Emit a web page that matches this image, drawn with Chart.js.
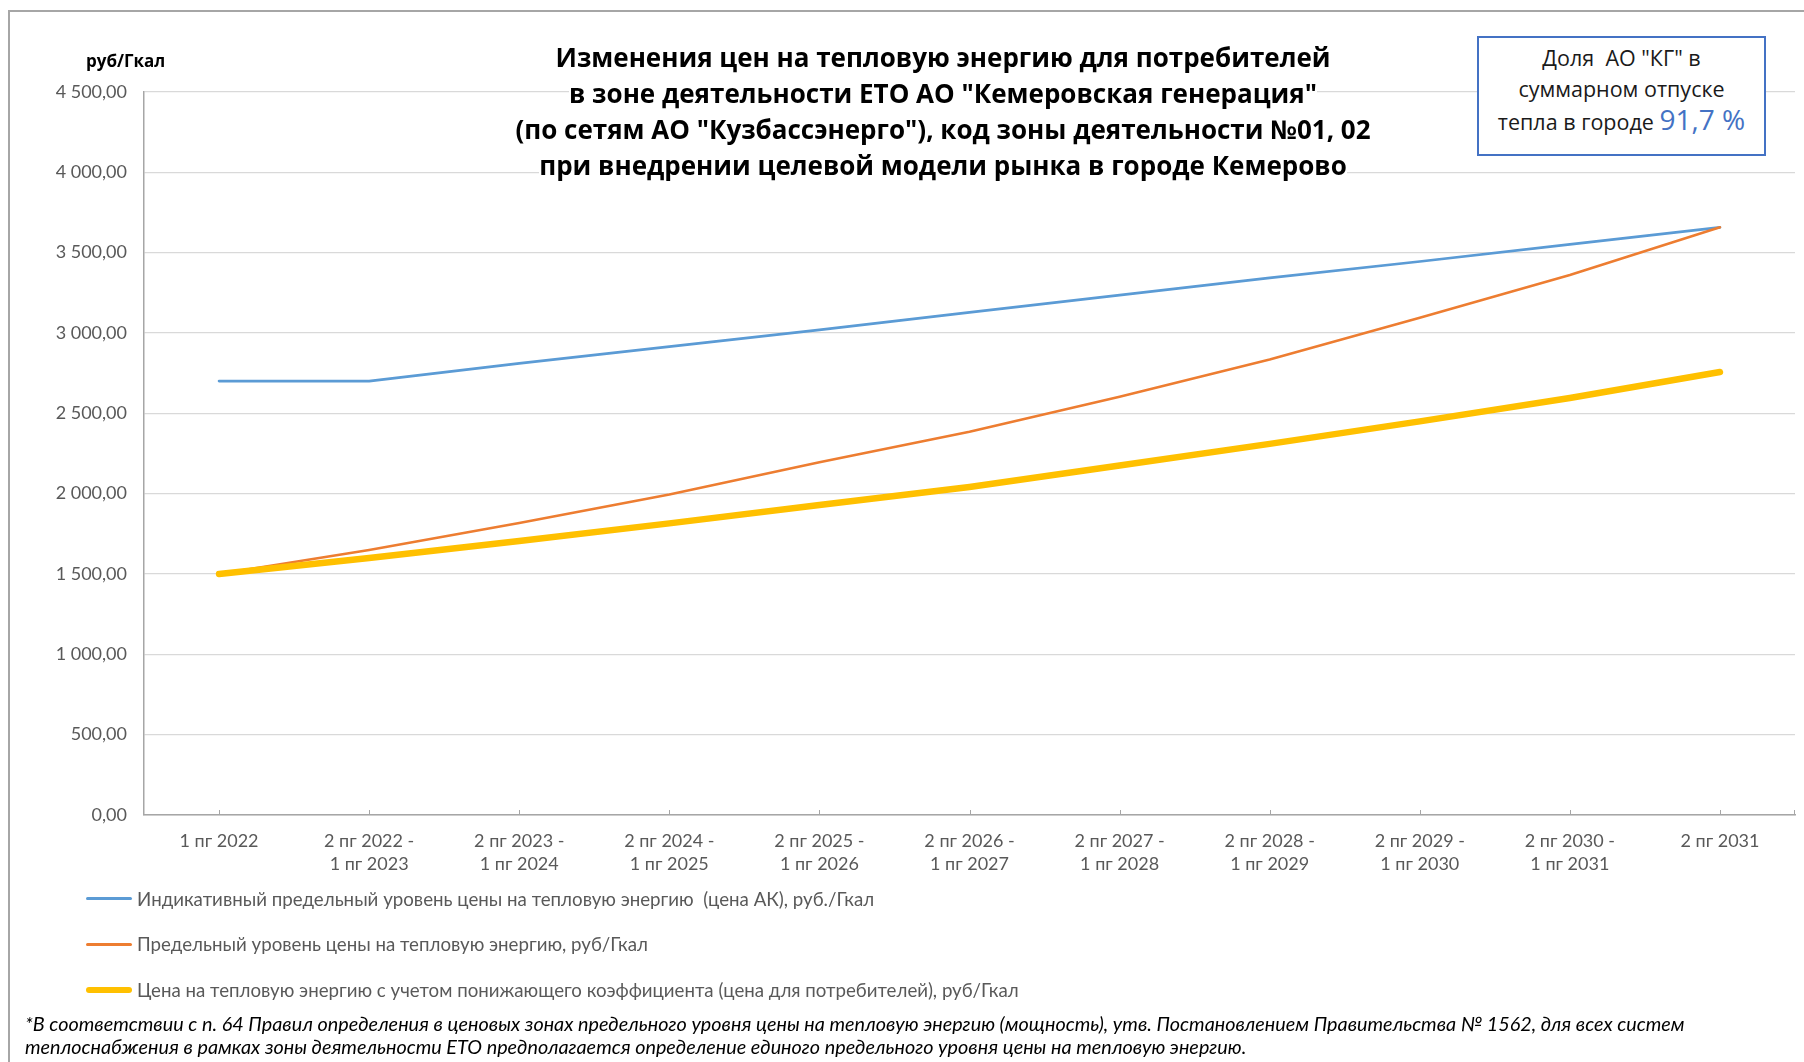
<!DOCTYPE html>
<html lang="ru">
<head>
<meta charset="utf-8">
<title>Цены на тепловую энергию</title>
<script src="https://cdn.jsdelivr.net/npm/chart.js@4.4.1/dist/chart.umd.min.js"></script>
<style>
    html, body { margin: 0; padding: 0; width: 1804px; height: 1062px; overflow: hidden; background: #fff; }
    #frame { position: absolute; left: 8px; top: 10px; width: 1900px; height: 1200px;
             border-top: 2px solid #a6a6a6; border-left: 2px solid #a6a6a6; }
    #chartBox { position: absolute; left: 0; top: 0; width: 1804px; height: 880px; }
    #title { position: absolute; left: 443px; top: 39px; width: 1000px; text-align: center;
             font: bold 26px "Open Sans", sans-serif; line-height: 36px; color: #000; z-index: 2; }
    #title span { background: #fff; }
    #unit { position: absolute; left: 86px; top: 49px; font: bold 17px "Open Sans", sans-serif; color: #000; }
    #share { position: absolute; left: 1477px; top: 36px; width: 285px; height: 112px;
             border: 2px solid #4472c4; background: #fff; text-align: center;
             font: 21.5px "Open Sans", sans-serif; line-height: 31px; color: #1a1a1a; padding-top: 4px; box-sizing: content-box; z-index: 2; }
    #share b { font-weight: normal; color: #4472c4; font-size: 28px; }
    #legend { position: absolute; left: 86px; top: 876px; }
    .row { height: 45.5px; display: flex; align-items: center; font: 18.7px Lato, sans-serif; color: #595959; white-space: pre; }
    .swatch { width: 46px; margin-right: 5px; }
    #note { position: absolute; left: 25px; top: 1012px; font: italic 19.8px Lato, sans-serif; line-height: 23px; color: #000; white-space: nowrap; }
</style>
</head>
<body>
<div id="frame"></div>
<div id="chartBox"><canvas id="priceChart"></canvas></div>
<div id="unit">руб/Гкал</div>
<div id="title">
    <span>Изменения цен на тепловую энергию для потребителей</span><br>
    <span>в зоне деятельности ЕТО АО "Кемеровская генерация"</span><br>
    <span>(по сетям АО "Кузбассэнерго"), код зоны деятельности №01, 02</span><br>
    <span>при внедрении целевой модели рынка в городе Кемерово</span>
</div>
<div id="share">Доля&nbsp; АО "КГ" в<br>суммарном отпуске<br>тепла в городе <b>91,7 %</b></div>
<div id="legend"></div>
<div id="note">*В соответствии с п. 64 Правил определения в ценовых зонах предельного уровня цены на тепловую энергию (мощность), утв. Постановлением Правительства № 1562, для всех систем<br>теплоснабжения в рамках зоны деятельности ЕТО предполагается определение единого предельного уровня цены на тепловую энергию.</div>

<script>
// периоды (подписи оси X)
const categories = [
    ['1 пг 2022'],
    ['2 пг 2022 -', '1 пг 2023'],
    ['2 пг 2023 -', '1 пг 2024'],
    ['2 пг 2024 -', '1 пг 2025'],
    ['2 пг 2025 -', '1 пг 2026'],
    ['2 пг 2026 -', '1 пг 2027'],
    ['2 пг 2027 -', '1 пг 2028'],
    ['2 пг 2028 -', '1 пг 2029'],
    ['2 пг 2029 -', '1 пг 2030'],
    ['2 пг 2030 -', '1 пг 2031'],
    ['2 пг 2031']
];

// значения, руб/Гкал
const indicativePrice = [2701, 2701, 2811, 2915, 3020, 3128, 3236, 3343, 3445, 3551, 3658];
const limitPrice = [1500, 1649, 1817, 1995, 2195, 2385, 2603, 2835, 3095, 3361, 3658];
const consumerPrice = [1500, 1600, 1705, 1815, 1929, 2042, 2175, 2310, 2450, 2595, 2757];

const seriesNames = [
    'Индикативный предельный уровень цены на тепловую энергию  (цена АК), руб./Гкал',
    'Предельный уровень цены на тепловую энергию, руб/Гкал',
    'Цена на тепловую энергию с учетом понижающего коэффициента (цена для потребителей), руб/Гкал'
];

const yMin = 0;
const yMax = 4500;
const yStep = 500;

// 4500 -> "4 500,00"
function formatRub(v) {
    let parts = Number(v).toFixed(2).split('.');
    parts[0] = parts[0].replace(/\B(?=(\d{3})+(?!\d))/g, ' ');
    return parts.join(',');
}

// короткие засечки внутрь области построения, как в Excel
const innerTicks = {
    id: 'innerTicks',
    afterDatasetsDraw(chart) {
        const x = chart.scales.x;
        const ctx = chart.ctx;
        const bottom = chart.chartArea.bottom;
        ctx.save();
        ctx.strokeStyle = '#a6a6a6';
        ctx.lineWidth = 1;
        ctx.beginPath();
        x.ticks.forEach((t, i) => {
            const px = Math.round(x.getPixelForTick(i)) + 0.5;
            ctx.moveTo(px, bottom);
            ctx.lineTo(px, bottom - 5);
        });
        ctx.moveTo(chart.chartArea.right - 0.5, bottom);
        ctx.lineTo(chart.chartArea.right - 0.5, bottom - 5);
        ctx.stroke();
        ctx.restore();
    }
};

const ctx = document.getElementById('priceChart').getContext('2d');
const chart = new Chart(ctx, {
    type: 'line',
    data: {
        labels: categories,
        datasets: [{
            label: seriesNames[0],
            data: indicativePrice,
            borderColor: '#5b9bd5',
            backgroundColor: '#5b9bd5',
            borderWidth: 2.75,
            order: 2
        }, {
            label: seriesNames[1],
            data: limitPrice,
            borderColor: '#ed7d31',
            backgroundColor: '#ed7d31',
            borderWidth: 2.5,
            order: 1
        }, {
            label: seriesNames[2],
            data: consumerPrice,
            borderColor: '#ffc000',
            backgroundColor: '#ffc000',
            borderWidth: 6.5,
            order: 0
        }]
    },
    options: {
        responsive: true,
        maintainAspectRatio: false,
        animation: false,
        layout: {
            padding: { top: 92, right: 9, bottom: 0, left: 0 }
        },
        elements: {
            point: { radius: 0, hoverRadius: 0 },
            line: { tension: 0, borderCapStyle: 'round', borderJoinStyle: 'round' }
        },
        scales: {
            x: {
                offset: true,
                afterFit(scale) { scale.height = 65; },
                grid: { display: true, drawOnChartArea: false, drawTicks: false, offset: false },
                border: { color: '#a6a6a6', width: 1.5 },
                ticks: {
                    color: '#595959',
                    font: { family: 'Lato', size: 18, lineHeight: 1.26 },
                    padding: 15,
                    maxRotation: 0,
                    autoSkip: false
                }
            },
            y: {
                min: yMin,
                max: yMax,
                afterFit(scale) { scale.width = 144; },
                grid: { color: '#d9d9d9', lineWidth: 1.25, drawTicks: false },
                border: { color: '#a6a6a6', width: 1.5 },
                ticks: {
                    stepSize: yStep,
                    color: '#595959',
                    font: { family: 'Lato', size: 18 },
                    padding: 17,
                    callback: (v) => formatRub(v)
                }
            }
        },
        plugins: {
            legend: { display: false },
            title: { display: false },
            tooltip: { enabled: false }
        }
    },
    plugins: [innerTicks]
});

// легенда столбиком, как в исходнике
const legendBox = document.getElementById('legend');
chart.data.datasets.forEach(ds => {
    const row = document.createElement('div');
    row.className = 'row';
    const sw = document.createElement('div');
    sw.className = 'swatch';
    sw.style.height = ds.borderWidth + 'px';
    sw.style.background = ds.borderColor;
    sw.style.borderRadius = ds.borderWidth + 'px';
    const txt = document.createElement('span');
    txt.textContent = ds.label;
    row.appendChild(sw);
    row.appendChild(txt);
    legendBox.appendChild(row);
});
</script>
</body>
</html>
